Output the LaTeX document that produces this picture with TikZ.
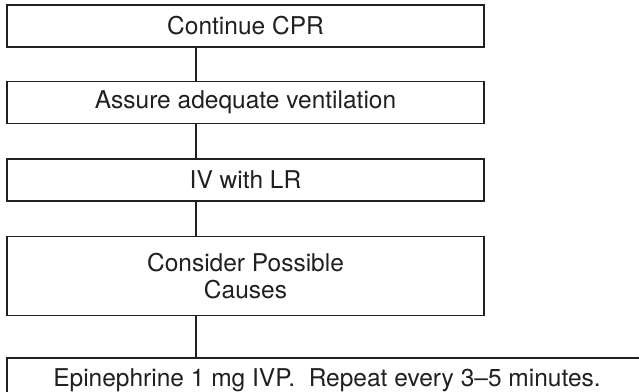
\documentclass[tikz,border=0pt]{standalone}
\usepackage{fontspec}
\setmainfont{TeX Gyre Heros}
\usepackage{tikz}
\usetikzlibrary{positioning}

\definecolor{ink}{HTML}{231F20}

\tikzset{
  stepbox/.style={draw=ink, line width=1.5pt, text=ink,
    minimum width=477pt, minimum height=42pt, inner sep=0pt,
    align=center, font=\fontsize{24.5}{27}\selectfont},
  link/.style={draw=ink, line width=2pt}
}

\begin{document}
\begin{tikzpicture}[x=1pt, y=1pt]
  \useasboundingbox (0,0) rectangle (639,-391);
  \clip (0,0) rectangle (639,-391);
  \node[stepbox] (cpr) at (245.5,-26) {Continue CPR};
  \node[stepbox, below=33pt of cpr] (vent) {Assure adequate ventilation};
  \node[stepbox, below=34pt of vent] (iv) {IV with LR};
  \node[stepbox, below=34pt of iv, minimum height=79pt] (causes)
    {Consider Possible\\Causes};
  \node[stepbox, below right=41pt and 0pt of causes.south west,
    minimum width=640pt, minimum height=44pt] (epi)
    {Epinephrine 1 mg IVP.\ \ Repeat every 3--5 minutes.};
  % connectors hang off one vertical line
  \coordinate (spine) at (196,0);
  \draw[link] (cpr.south -| spine) -- (vent.north -| spine);
  \draw[link] (vent.south -| spine) -- (iv.north -| spine);
  \draw[link] (iv.south -| spine) -- (causes.north -| spine);
  \draw[link] (causes.south -| spine) -- (epi.north -| spine);
\end{tikzpicture}
\end{document}
